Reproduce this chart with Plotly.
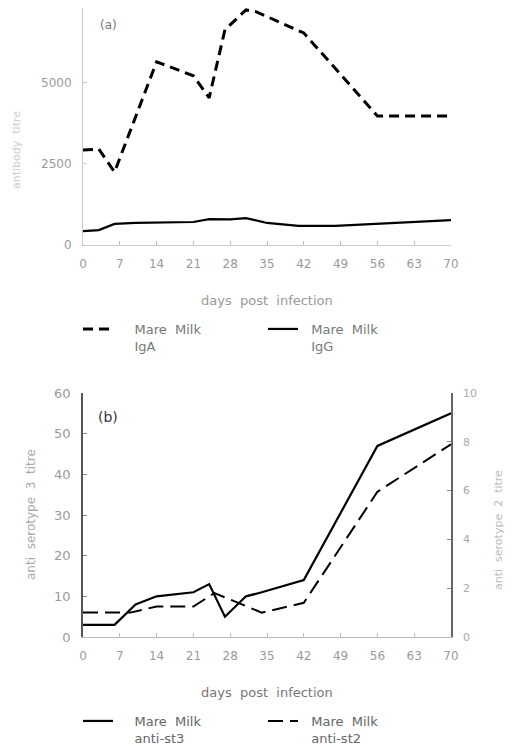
import plotly.graph_objects as go

W, H = 514, 747

# ---------------- data ----------------
day_ticks = [0, 7, 14, 21, 28, 35, 42, 49, 56, 63, 70]
day_tick_labels = [str(d) for d in day_ticks]

# panel (a)
iga_days = [0, 3, 6, 14, 21, 24, 27, 31, 33, 42, 56, 70]
iga_vals = [2930, 2960, 2250, 5650, 5220, 4540, 6640, 7250, 7190, 6540, 3980, 3980]
igg_days = [0, 3, 6, 10, 21, 24, 28, 31, 35, 41, 48, 56, 70]
igg_vals = [430, 460, 650, 680, 710, 800, 790, 830, 680, 590, 590, 650, 770]
a_yticks = [0, 2500, 5000]
a_ytick_labels = ["0", "2500", "5000"]

# panel (b)
st3_days = [0, 6, 10, 14, 21, 24, 27, 31, 34, 42, 56, 70]
st3_vals = [3, 3, 8, 10, 11, 13, 5, 10, 11, 14, 47, 55]
st2_days = [0, 9, 14, 21, 25, 34, 42, 56, 70]
st2_vals = [1.0, 1.0, 1.25, 1.25, 1.8, 1.0, 1.4, 5.95, 7.9]
b_left_ticks = [0, 10, 20, 30, 40, 50, 60]
b_right_ticks = [0, 2, 4, 6, 8, 10]

OFF = 8  # page body margin


def px(x):
    return (x - OFF) / W


def py(y):
    return 1 - (y - OFF) / H


FONT = "DejaVu Sans"
xdom = [px(83), px(451)]
SP = "&nbsp;" * 4

fig = go.Figure()

fig.add_trace(go.Scatter(x=iga_days, y=iga_vals, mode="lines",
                         name=SP + "Mare  Milk<br>" + SP + "IgA",
                         line=dict(color="black", width=3, dash="10px,6px"),
                         xaxis="x", yaxis="y", legend="legend"))
fig.add_trace(go.Scatter(x=igg_days, y=igg_vals, mode="lines",
                         name="&nbsp;&nbsp;Mare  Milk<br>&nbsp;&nbsp;IgG",
                         line=dict(color="black", width=2.2),
                         xaxis="x", yaxis="y", legend="legend"))

fig.add_trace(go.Scatter(x=st3_days, y=st3_vals, mode="lines",
                         name=SP + "Mare  Milk<br>" + SP + "anti-st3",
                         line=dict(color="black", width=2.2),
                         xaxis="x2", yaxis="y2", legend="legend2"))
fig.add_trace(go.Scatter(x=st2_days, y=st2_vals, mode="lines",
                         name="&nbsp;&nbsp;Mare  Milk<br>&nbsp;&nbsp;anti-st2",
                         line=dict(color="black", width=2, dash="15px,7px"),
                         xaxis="x2", yaxis="y3", legend="legend2"))

tickfont = dict(family=FONT, size=12, color="#9a9a9a")

common_x = dict(range=[0, 70], tickvals=day_ticks, ticktext=day_tick_labels,
                showgrid=False, zeroline=False, ticks="inside", ticklen=4,
                tickcolor="#bbbbbb", tickfont=tickfont, ticklabelstandoff=8,
                domain=xdom, automargin=False)

fig.update_layout(
    width=W, height=H,
    margin=dict(l=0, r=0, t=0, b=0, autoexpand=False),
    paper_bgcolor="white", plot_bgcolor="white",
    font=dict(family=FONT, size=12, color="#777"),
    xaxis=dict(**common_x, anchor="y", showline=True, linecolor="#cccccc", linewidth=1),
    yaxis=dict(domain=[py(245), 1.0], range=[0, 7310], tickvals=a_yticks,
               ticktext=a_ytick_labels, showgrid=False, zeroline=False,
               showline=True, linecolor="#c8c8c8", linewidth=1, ticks="inside",
               ticklen=4, tickcolor="#cccccc", tickfont=tickfont, ticklabelstandoff=8,
               anchor="x", automargin=False),
    xaxis2=dict(**common_x, anchor="y2", showline=True, linecolor="#bbbbbb", linewidth=1),
    yaxis2=dict(domain=[py(637), py(393)], range=[0, 60], tickvals=b_left_ticks,
                showgrid=False, zeroline=False, showline=True, linecolor="#555555",
                linewidth=1.5, ticks="inside", ticklen=4, tickcolor="#888888",
                tickfont=dict(family=FONT, size=13, color="#9a9a9a"),
                ticklabelstandoff=8, anchor="x2", automargin=False),
    yaxis3=dict(overlaying="y2", side="right", range=[0, 10], tickvals=b_right_ticks,
                showgrid=False, zeroline=False, showline=True, linecolor="#666666",
                linewidth=1.5, ticks="inside", ticklen=4, tickcolor="#888888",
                tickfont=dict(family=FONT, size=11, color="#aaaaaa"),
                ticklabelstandoff=8, anchor="x2", automargin=False),
    legend=dict(orientation="h", x=px(78), y=py(314), xanchor="left", yanchor="top",
                valign="top", entrywidthmode="pixels", entrywidth=140,
                font=dict(family=FONT, size=13, color="#777777"),
                bgcolor="rgba(0,0,0,0)"),
    legend2=dict(orientation="h", x=px(78), y=py(706), xanchor="left", yanchor="top",
                 valign="top", entrywidthmode="pixels", entrywidth=140,
                 font=dict(family=FONT, size=13, color="#666666"),
                 bgcolor="rgba(0,0,0,0)"),
    showlegend=True,
)

annotations = [
    dict(x=px(108), y=py(25), text="(a)", font=dict(family=FONT, size=12, color="#777")),
    dict(x=px(108), y=py(417), text="(b)", font=dict(family=FONT, size=14, color="#333")),
    dict(x=px(267), y=py(300), text="days  post  infection",
         font=dict(family=FONT, size=13, color="#999")),
    dict(x=px(267), y=py(692), text="days  post  infection",
         font=dict(family=FONT, size=13, color="#777")),
    dict(x=px(16), y=py(150), text="antibody  titre", textangle=-90,
         font=dict(family=FONT, size=11, color="#cccccc")),
    dict(x=px(31), y=py(515), text="anti  serotype  3  titre", textangle=-90,
         font=dict(family=FONT, size=12, color="#aaaaaa")),
    dict(x=px(498), y=py(530), text="anti  serotype  2  titre", textangle=-90,
         font=dict(family=FONT, size=11, color="#bbbbbb")),
]
for a in annotations:
    a.update(xref="paper", yref="paper", showarrow=False,
             xanchor="center", yanchor="middle")
fig.update_layout(annotations=annotations)

fig.write_html("out.html")
